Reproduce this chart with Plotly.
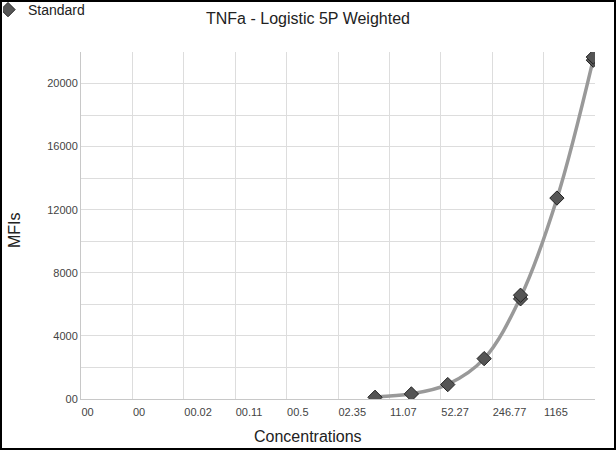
import plotly.graph_objects as go

# Data
std_conc = [7.17, 21.5, 64.5, 193.5, 580.6, 580.6, 1742, 5225, 5225]
std_mfi = [107, 320, 915, 2560, 6350, 6580, 12740, 21480, 21680]

fit_conc = [7.17, 21.5, 64.5, 193.5, 580.6, 1742, 5225]
fit_mfi = [130, 330, 930, 2560, 6450, 12700, 21550]

x_tick_vals = [0.001, 0.004721, 0.02229, 0.1052, 0.4967, 2.345, 11.07, 52.27, 246.77, 1165, 5500]
x_tick_text = ["00", "00", "00.02", "00.11", "00.5", "02.35", "11.07", "52.27", "246.77", "1165", "5500"]

y_tick_vals = [0, 4000, 8000, 12000, 16000, 20000]
y_tick_text = ["00", "4000", "8000", "12000", "16000", "20000"]

W, H = 616, 450
ML, MR, MT, MB = 81, 21, 52, 51
PW, PH = W - ML - MR, H - MT - MB

FONT = "Liberation Sans, Arial, sans-serif"

fig = go.Figure()
fig.add_trace(go.Scatter(
    x=fit_conc, y=fit_mfi, mode="lines",
    line=dict(color="#999999", width=3.5, shape="spline", smoothing=1.0),
    showlegend=False, hoverinfo="skip",
))
fig.add_trace(go.Scatter(
    x=std_conc, y=std_mfi, mode="markers", name="Standard",
    marker=dict(symbol="diamond", size=11, color="#555555",
                line=dict(color="#222222", width=1)),
))

fig.update_layout(
    width=W, height=H,
    margin=dict(l=ML, r=MR, t=MT, b=MB, autoexpand=False),
    paper_bgcolor="white", plot_bgcolor="white",
    font=dict(family=FONT, color="#333333"),
    title=dict(text="TNFa - Logistic 5P Weighted", x=0.5, xref="container",
               xanchor="center", y=1 - 18 / H, yref="container", yanchor="middle",
               font=dict(size=16, color="#222222")),
    showlegend=True,
    legend=dict(xref="paper", yref="paper", x=-(ML - 3) / PW, y=1 + (MT - 26) / PH,
                xanchor="left", yanchor="bottom", font=dict(size=14, color="#222222"),
                bgcolor="rgba(0,0,0,0)", itemwidth=30, indentation=-15),
    xaxis=dict(
        type="log", range=[-3, 3.74036],
        tickmode="array", tickvals=x_tick_vals, ticktext=x_tick_text,
        ticklabelposition="outside right", ticklabelstandoff=3,
        tickfont=dict(size=11, color="#444444"),
        showgrid=True, gridcolor="#dddddd", gridwidth=1,
        showline=True, linecolor="#c8c8c8", linewidth=1,
        ticks="", zeroline=False, automargin=False,
    ),
    yaxis=dict(
        range=[0, 22000],
        tickmode="array", tickvals=y_tick_vals, ticktext=y_tick_text,
        tickfont=dict(size=11, color="#444444"),
        showgrid=True, gridcolor="#dddddd", gridwidth=1,
        minor=dict(dtick=2000, tick0=0, showgrid=True, gridcolor="#dddddd", gridwidth=1),
        showline=True, linecolor="#c8c8c8", linewidth=1,
        ticks="", zeroline=False, automargin=False,
    ),
    annotations=[
        dict(text="Concentrations", xref="paper", yref="paper",
             x=(308 - ML) / PW, y=-(436 - MT - PH) / PH,
             xanchor="center", yanchor="middle", showarrow=False,
             font=dict(size=16, color="#222222")),
        dict(text="MFIs", xref="paper", yref="paper",
             x=(14 - ML) / PW, y=1 - (230 - MT) / PH, textangle=-90,
             xanchor="center", yanchor="middle", showarrow=False,
             font=dict(size=16, color="#222222")),
    ],
    shapes=[dict(
        type="rect", xref="paper", yref="paper",
        x0=-ML / PW, x1=1 + MR / PW, y0=-MB / PH, y1=1 + MT / PH,
        line=dict(color="black", width=4), fillcolor="rgba(0,0,0,0)", layer="above",
    )],
)

fig.write_html("out.html", config={"displayModeBar": False},
               post_script="document.body.style.margin='0';")
